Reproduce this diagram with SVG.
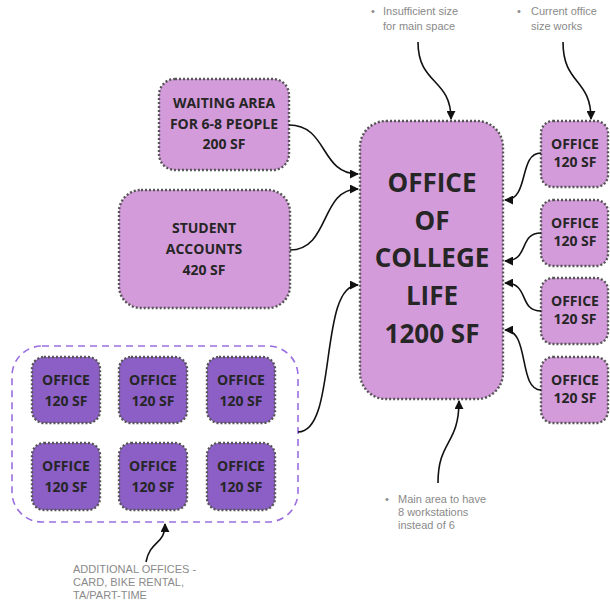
<svg xmlns="http://www.w3.org/2000/svg" width="610" height="610" viewBox="0 0 610 610">
<defs>
<marker id="ah" viewBox="0 0 10 10" refX="9" refY="5" markerWidth="9" markerHeight="9" markerUnits="userSpaceOnUse" orient="auto">
<path d="M0,0 L10,5 L0,10 z" fill="#111"/>
</marker>
</defs>
<style>
.lt{fill:#d49bdb;stroke:#555;stroke-width:2.4;stroke-dasharray:2 2}
.dk{fill:#8b5fc6;stroke:#555;stroke-width:2.4;stroke-dasharray:2 2}
.grp{fill:none;stroke:#9b6ee0;stroke-width:1.6;stroke-dasharray:7 5}
.t{font-family:"Open Sans","DejaVu Sans",sans-serif;font-weight:bold;fill:#262626;text-anchor:middle}
.s14{font-size:14px}
.s26{font-size:26px}
.n{font-family:"Liberation Sans",Arial,sans-serif;font-size:11px;fill:#8a8a8a}
.c{fill:none;stroke:#111;stroke-width:1.6;marker-end:url(#ah)}
</style>
<g id="main">
<rect class="lt" x="360" y="121" width="143" height="278" rx="26"/>
<text class="t s26" x="432" y="192">OFFICE</text>
<text class="t s26" x="432" y="230">OF</text>
<text class="t s26" x="432" y="267">COLLEGE</text>
<text class="t s26" x="432" y="305">LIFE</text>
<text class="t s26" x="432" y="343">1200 SF</text>
</g>
<g id="waiting">
<rect class="lt" x="159" y="79" width="130" height="91" rx="16"/>
<text class="t s14" x="224" y="108">WAITING AREA</text>
<text class="t s14" x="224" y="129">FOR 6-8 PEOPLE</text>
<text class="t s14" x="224" y="149">200 SF</text>
</g>
<g id="student">
<rect class="lt" x="119" y="190" width="171" height="118" rx="22"/>
<text class="t s14" x="204" y="233">STUDENT</text>
<text class="t s14" x="204" y="254">ACCOUNTS</text>
<text class="t s14" x="204" y="275">420 SF</text>
</g>
<g id="office-r1">
<rect class="lt" x="541" y="121" width="67" height="66" rx="12"/>
<text class="t s14" x="575" y="149">OFFICE</text>
<text class="t s14" x="575" y="167">120 SF</text>
</g>
<g id="office-r2">
<rect class="lt" x="541" y="200" width="67" height="66" rx="12"/>
<text class="t s14" x="575" y="228">OFFICE</text>
<text class="t s14" x="575" y="246">120 SF</text>
</g>
<g id="office-r3">
<rect class="lt" x="541" y="278" width="67" height="66" rx="12"/>
<text class="t s14" x="575" y="306">OFFICE</text>
<text class="t s14" x="575" y="324">120 SF</text>
</g>
<g id="office-r4">
<rect class="lt" x="541" y="357" width="67" height="66" rx="12"/>
<text class="t s14" x="575" y="385">OFFICE</text>
<text class="t s14" x="575" y="403">120 SF</text>
</g>
<g id="additional-group">
<rect class="grp" x="12" y="346" width="286" height="176" rx="30"/>
</g>
<g id="office-a1"><rect class="dk" x="32" y="357" width="68" height="66" rx="12"/><text class="t s14" x="66" y="385">OFFICE</text><text class="t s14" x="66" y="406">120 SF</text></g>
<g id="office-a2"><rect class="dk" x="119" y="357" width="68" height="66" rx="12"/><text class="t s14" x="153" y="385">OFFICE</text><text class="t s14" x="153" y="406">120 SF</text></g>
<g id="office-a3"><rect class="dk" x="207" y="357" width="68" height="66" rx="12"/><text class="t s14" x="241" y="385">OFFICE</text><text class="t s14" x="241" y="406">120 SF</text></g>
<g id="office-a4"><rect class="dk" x="32" y="443" width="68" height="67" rx="12"/><text class="t s14" x="66" y="471">OFFICE</text><text class="t s14" x="66" y="492">120 SF</text></g>
<g id="office-a5"><rect class="dk" x="119" y="443" width="68" height="67" rx="12"/><text class="t s14" x="153" y="471">OFFICE</text><text class="t s14" x="153" y="492">120 SF</text></g>
<g id="office-a6"><rect class="dk" x="207" y="443" width="68" height="67" rx="12"/><text class="t s14" x="241" y="471">OFFICE</text><text class="t s14" x="241" y="492">120 SF</text></g>
<g id="note-top1">
<text class="n" x="371" y="15">•</text>
<text class="n" x="383" y="15">Insufficient size</text>
<text class="n" x="383" y="30">for main space</text>
</g>
<g id="note-top2">
<text class="n" x="517" y="15">•</text>
<text class="n" x="531" y="15">Current office</text>
<text class="n" x="531" y="30">size works</text>
</g>
<g id="note-bottom">
<text class="n" x="385" y="503">•</text>
<text class="n" x="398" y="503">Main area to have</text>
<text class="n" x="398" y="516">8 workstations</text>
<text class="n" x="398" y="529">instead of 6</text>
</g>
<g id="note-additional">
<text class="n" x="73" y="573">ADDITIONAL OFFICES -</text>
<text class="n" x="73" y="586">CARD, BIKE RENTAL,</text>
<text class="n" x="73" y="599">TA/PART-TIME</text>
</g>
<g id="connectors">
<path class="c" d="M289,125 C328,125 320,174 358,174"/>
<path class="c" d="M290,250 C330,250 320,189 358,189"/>
<path class="c" d="M298,432 C338,432 318,285 358,285"/>
<path class="c" d="M418,42 C418,85 451,78 451,119"/>
<path class="c" d="M563,42 C563,85 591,78 591,119"/>
<path class="c" d="M541,153 C518,153 530,200 505,200"/>
<path class="c" d="M541,233 C518,233 530,261 505,261"/>
<path class="c" d="M541,311 C518,311 530,283 505,283"/>
<path class="c" d="M541,390 C518,390 530,330 505,330"/>
<path class="c" d="M438,483 C438,440 459,445 459,401"/>
<path class="c" d="M146,562 C150,540 165,545 165,524"/>
</g>
</svg>
